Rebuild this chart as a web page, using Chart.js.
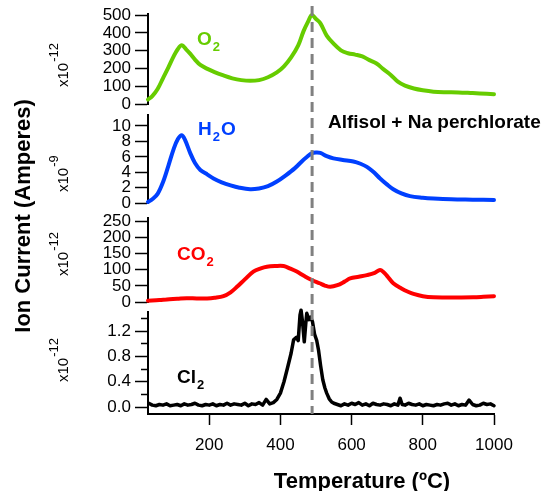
<!DOCTYPE html>
<html>
<head>
<meta charset="utf-8">
<script src="https://cdn.jsdelivr.net/npm/chart.js@4.4.1/dist/chart.umd.min.js"></script>
<style>
  html, body { margin: 0; padding: 0; background: #fff; }
  canvas { display: block; }
</style>
</head>
<body>
<canvas id="myChart" width="544" height="491"></canvas>
<script>
// values (temperature in degC, currents in the panel units)
var o2Temp = [28, 40, 55, 70, 85, 100, 112, 123, 135, 147, 160, 175, 195, 215, 240, 265, 290, 315, 340, 365, 390, 410, 430, 450, 465, 478, 488, 500, 512, 530, 550, 570, 590, 610, 630, 650, 670, 690, 710, 730, 750, 775, 800, 830, 860, 900, 940, 980, 1000];
var o2Val = [26, 45, 85, 145, 205, 268, 310, 330, 308, 282, 250, 220, 198, 180, 161, 145, 135, 131, 135, 151, 178, 212, 262, 330, 410, 465, 500, 478, 455, 385, 338, 302, 286, 278, 268, 247, 228, 195, 164, 126, 104, 88, 78, 70, 67, 66, 62, 58, 56];

var h2oTemp = [28, 40, 55, 70, 85, 100, 112, 123, 132, 147, 160, 175, 195, 212, 235, 260, 285, 315, 340, 365, 390, 415, 440, 460, 475, 488, 500, 512, 530, 549, 575, 605, 625, 643, 660, 680, 700, 717, 740, 764, 800, 830, 880, 940, 1000];
var h2oVal = [0.15, 0.5, 1.2, 2.7, 4.8, 7.0, 8.3, 8.8, 8.2, 6.45, 5.2, 4.3, 3.7, 3.2, 2.7, 2.3, 2.0, 1.8, 1.9, 2.2, 2.8, 3.6, 4.5, 5.4, 6.0, 6.45, 6.55, 6.5, 6.1, 5.8, 5.6, 5.4, 5.1, 4.7, 4.1, 3.2, 2.4, 1.8, 1.25, 0.9, 0.7, 0.6, 0.5, 0.45, 0.4];

var co2Temp = [28, 60, 81, 110, 137, 165, 194, 215, 240, 260, 278, 300, 324, 345, 362, 385, 409, 428, 446, 466, 488, 510, 525, 540, 560, 580, 596, 620, 643, 665, 680, 690, 700, 717, 740, 760, 774, 800, 830, 870, 900, 942, 970, 1000];
var co2Val = [4, 6, 8, 10, 12, 11, 11, 13, 18, 30, 47, 70, 94, 104, 109, 111, 111, 103, 94, 81, 68, 58, 51, 47, 52, 63, 73, 78, 83, 90, 99, 92, 80, 58, 42, 31, 25, 18, 14.5, 14, 14, 14.5, 16, 18];

var cl2Temp = [30, 40, 50, 60, 70, 80, 90, 100, 110, 120, 130, 140, 150, 160, 170, 180, 190, 200, 210, 220, 230, 240, 250, 260, 270, 280, 290, 300, 310, 320, 330, 340, 350, 360, 370, 380, 390, 400, 410, 420, 430, 437, 445, 450, 455, 458, 462, 467, 471, 474, 480, 485, 490, 496, 502, 507, 513, 519, 525, 530, 537, 544, 550, 560, 570, 580, 590, 600, 610, 620, 630, 640, 650, 660, 670, 680, 690, 700, 710, 720, 730, 736, 742, 750, 760, 770, 780, 790, 800, 810, 820, 830, 840, 850, 860, 870, 880, 890, 900, 910, 920, 930, 940, 950, 960, 970, 980, 990, 1000];
var cl2Val = [0.06, 0.03, 0.02, 0.04, 0.03, 0.05, 0.02, 0.03, 0.04, 0.02, 0.05, 0.03, 0.04, 0.06, 0.03, 0.02, 0.04, 0.03, 0.05, 0.02, 0.04, 0.03, 0.06, 0.03, 0.05, 0.04, 0.03, 0.06, 0.02, 0.05, 0.04, 0.07, 0.03, 0.12, 0.05, 0.07, 0.12, 0.22, 0.4, 0.62, 0.85, 1.06, 1.1, 1.05, 1.45, 1.53, 1.35, 1.03, 1.3, 1.48, 1.38, 1.42, 1.35, 1.15, 1.05, 0.9, 0.65, 0.43, 0.3, 0.22, 0.13, 0.08, 0.06, 0.04, 0.02, 0.05, 0.03, 0.06, 0.04, 0.07, 0.03, 0.05, 0.02, 0.06, 0.04, 0.03, 0.05, 0.04, 0.02, 0.05, 0.03, 0.14, 0.04, 0.03, 0.06, 0.04, 0.03, 0.05, 0.02, 0.04, 0.03, 0.02, 0.04, 0.03, 0.05, 0.06, 0.03, 0.05, 0.02, 0.04, 0.03, 0.11, 0.04, 0.02, 0.03, 0.06, 0.04, 0.05, 0.02];

var xTicks = [200, 400, 600, 800, 1000];
var o2Ticks = [0, 100, 200, 300, 400, 500];
var h2oTicks = [0, 2, 4, 6, 8, 10];
var co2Ticks = [0, 50, 100, 150, 200, 250];
var cl2Ticks = [0, 0.2, 0.4, 0.6, 0.8, 1.0, 1.2, 1.4];
var cl2Labelled = [0, 0.4, 0.8, 1.2];
var markTemp = 489;

var green = '#66CC00', blue = '#0040FF', red = '#FF0000', black = '#000000';
var fontFam = "'Liberation Sans', Arial, sans-serif";
Chart.defaults.font.family = fontFam;
Chart.defaults.color = '#000';

function pairs(xs, ys) {
  return xs.map(function (x, i) { return { x: x, y: ys[i] }; });
}

function fixWidth(scale) { scale.width = 148; }

// one panel = one y axis in the left stack
function panelAxis(weight, h, min, max, tickVals, labelFn) {
  return {
    type: 'linear', position: 'left', stack: 'panels', stackWeight: h, weight: weight,
    min: min, max: max,
    afterBuildTicks: function (s) { s.ticks = tickVals.map(function (v) { return { value: v }; }); },
    afterFit: fixWidth,
    border: { display: true, color: '#000', width: 2 },
    grid: {
      drawOnChartArea: false, color: '#000', tickColor: '#000', tickLength: 13, tickWidth: 1.5,
      tickBorderDash: function (c) {
        if (labelFn && c.tick && labelFn(c.tick.value) === '') return [0, 6, 8, 0];
        return [];
      }
    },
    ticks: {
      autoSkip: false, padding: 4, color: '#000', font: { size: 17 },
      callback: labelFn ? function (v) { return labelFn(v); } : function (v) { return String(v); }
    }
  };
}

// empty axis only used as a gap between panels
function gapAxis(weight, h) {
  return {
    type: 'linear', position: 'left', stack: 'panels', stackWeight: h, weight: weight,
    min: 0, max: 1, afterFit: fixWidth,
    border: { display: false }, grid: { display: false }, ticks: { display: false }
  };
}

function cl2Label(v) {
  var r = Math.round(v * 10) / 10;
  return cl2Labelled.indexOf(r) >= 0 ? r.toFixed(1) : '';
}

function chem(ctx, parts, x, y, color) {
  ctx.fillStyle = color;
  ctx.textAlign = 'left';
  ctx.textBaseline = 'alphabetic';
  parts.forEach(function (p) {
    if (p[1]) {
      ctx.font = 'bold 13px ' + fontFam;
      ctx.fillText(p[0], x + 1, y + 6);
      x += ctx.measureText(p[0]).width + 2;
    } else {
      ctx.font = 'bold 19px ' + fontFam;
      ctx.fillText(p[0], x, y);
      x += ctx.measureText(p[0]).width;
    }
  });
}

function exponent(ctx, x, y, pow) {
  ctx.save();
  ctx.translate(x, y);
  ctx.rotate(-Math.PI / 2);
  ctx.fillStyle = '#000';
  ctx.textAlign = 'left';
  ctx.textBaseline = 'alphabetic';
  ctx.font = '15px ' + fontFam;
  ctx.fillText('x10', 0, 0);
  var w = ctx.measureText('x10').width;
  ctx.font = '13px ' + fontFam;
  ctx.fillText(pow, w + 1, -10);
  ctx.restore();
}

var annot = {
  id: 'annot',
  afterDatasetsDraw: function (chart) {
    var ctx = chart.ctx, area = chart.chartArea;
    var px = chart.scales.x.getPixelForValue(markTemp);
    ctx.save();
    ctx.strokeStyle = '#808080';
    ctx.lineWidth = 3;
    ctx.setLineDash([10, 6]);
    ctx.beginPath();
    ctx.moveTo(px, 6);
    ctx.lineTo(px, area.bottom);
    ctx.stroke();
    ctx.setLineDash([]);

    chem(ctx, [['O', 0], ['2', 1]], 197, 45, green);
    chem(ctx, [['H', 0], ['2', 1], ['O', 0]], 198, 135, blue);
    chem(ctx, [['CO', 0], ['2', 1]], 177, 260, red);
    chem(ctx, [['Cl', 0], ['2', 1]], 177, 383, black);

    ctx.fillStyle = '#000';
    ctx.font = 'bold 19px ' + fontFam;
    ctx.textAlign = 'left';
    ctx.fillText('Alfisol + Na perchlorate', 328, 128);

    exponent(ctx, 68, 87, '-12');
    exponent(ctx, 68, 192, '-9');
    exponent(ctx, 68, 276, '-12');
    exponent(ctx, 68, 382, '-12');

    // axis titles
    ctx.font = 'bold 22px ' + fontFam;
    ctx.textAlign = 'center';
    ctx.fillText('Temperature (\u00BAC)', 362, 488);
    ctx.translate(30, 216);
    ctx.rotate(-Math.PI / 2);
    ctx.fillText('Ion Current (Amperes)', 0, 0);
    ctx.restore();
  }
};

function series(xs, ys, color, axis, width, smooth) {
  return {
    data: pairs(xs, ys), yAxisID: axis, borderColor: color, borderWidth: width,
    pointRadius: 0, fill: false, tension: smooth ? 0.35 : 0, clip: false,
    borderJoinStyle: 'round', borderCapStyle: 'round'
  };
}

new Chart(document.getElementById('myChart'), {
  type: 'line',
  data: {
    datasets: [
      series(o2Temp, o2Val, green, 'yO2', 4, true),
      series(h2oTemp, h2oVal, blue, 'yH2O', 4, true),
      series(co2Temp, co2Val, red, 'yCO2', 4, true),
      series(cl2Temp, cl2Val, black, 'yCl2', 3.5, false)
    ]
  },
  options: {
    responsive: false,
    animation: false,
    layout: { padding: { top: 14, right: 50, bottom: 0, left: 0 } },
    plugins: { legend: { display: false }, tooltip: { enabled: false } },
    scales: {
      x: {
        type: 'linear', position: 'bottom', min: 28, max: 1000,
        afterBuildTicks: function (s) { s.ticks = xTicks.map(function (v) { return { value: v }; }); },
        afterFit: function (s) { s.height = 77; },
        border: { display: true, color: '#000', width: 2 },
        grid: { drawOnChartArea: false, color: '#000', tickColor: '#000', tickLength: 11, tickWidth: 1.5 },
        ticks: {
          autoSkip: false, maxRotation: 0, padding: 10, color: '#000', font: { size: 17 },
          callback: function (v) { return String(v); }
        }
      },
      yO2: panelAxis(7, 90, 0, 505, o2Ticks),
      gap1: gapAxis(6, 11),
      yH2O: panelAxis(5, 88, 0, 11.4, h2oTicks),
      gap2: gapAxis(4, 15),
      yCO2: panelAxis(3, 84, 0, 259, co2Ticks),
      gap3: gapAxis(2, 10),
      yCl2: panelAxis(1, 102, -0.11, 1.5, cl2Ticks, cl2Label)
    }
  },
  plugins: [annot]
});
</script>
</body>
</html>
